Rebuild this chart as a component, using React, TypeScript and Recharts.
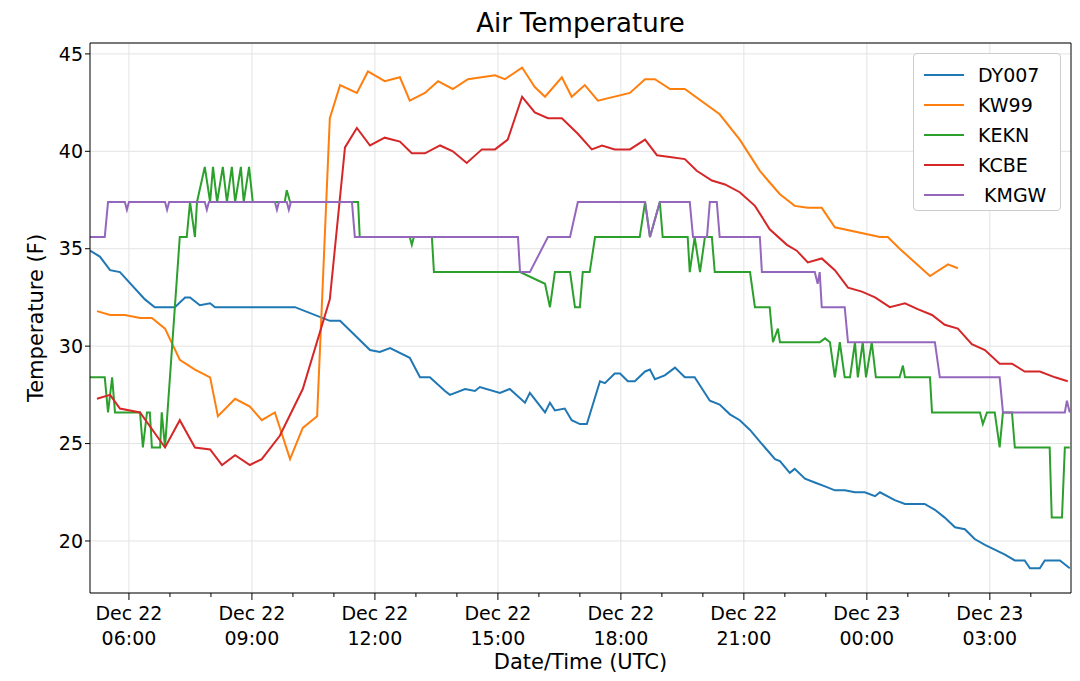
import React from "react";
import { LineChart, Line, XAxis, YAxis, CartesianGrid, ReferenceLine } from "recharts";

// time in hours since Dec 22 00:00 UTC
const dyTimes = [5.05, 5.29, 5.54, 5.78, 6.39, 6.63, 7.12, 7.37, 7.49, 7.73, 7.98, 8.1, 10.05, 10.9, 11.15, 11.88, 12.12, 12.37, 12.85, 13.1, 13.34, 13.71, 13.83, 14.2, 14.44, 14.56, 15.05, 15.29, 15.66, 15.78, 16.15, 16.27, 16.39, 16.63, 16.8, 17.0, 17.17, 17.49, 17.61, 17.85, 17.98, 18.17, 18.34, 18.59, 18.71, 18.83, 19.07, 19.32, 19.56, 19.8, 20.17, 20.41, 20.66, 20.9, 21.15, 21.39, 21.76, 21.88, 22.12, 22.24, 22.49, 22.73, 22.98, 23.22, 23.46, 23.71, 23.95, 24.2, 24.32, 24.68, 24.93, 25.41, 25.66, 25.9, 26.15, 26.39, 26.63, 26.88, 27.37, 27.61, 27.85, 27.98, 28.22, 28.34, 28.71, 28.95];
const dyValues = [34.9, 34.6, 33.9, 33.8, 32.4, 32.0, 32.0, 32.5, 32.5, 32.1, 32.2, 32.0, 32.0, 31.3, 31.3, 29.8, 29.7, 29.9, 29.4, 28.4, 28.4, 27.7, 27.5, 27.8, 27.7, 27.9, 27.6, 27.8, 27.1, 27.6, 26.6, 27.1, 26.7, 26.8, 26.2, 26.0, 26.0, 28.2, 28.1, 28.6, 28.6, 28.2, 28.2, 28.7, 28.8, 28.3, 28.5, 28.9, 28.4, 28.4, 27.2, 27.0, 26.5, 26.2, 25.7, 25.1, 24.2, 24.1, 23.5, 23.7, 23.2, 23.0, 22.8, 22.6, 22.6, 22.5, 22.5, 22.3, 22.5, 22.1, 21.9, 21.9, 21.6, 21.2, 20.7, 20.6, 20.1, 19.8, 19.3, 19.0, 19.0, 18.6, 18.6, 19.0, 19.0, 18.6];

const kw99Times = [5.22, 5.54, 5.9, 6.27, 6.56, 6.88, 7.24, 7.61, 7.98, 8.17, 8.59, 8.95, 9.24, 9.56, 9.93, 10.24, 10.59, 10.9, 11.15, 11.56, 11.83, 12.24, 12.61, 12.85, 13.22, 13.54, 13.9, 14.27, 14.93, 15.17, 15.59, 15.9, 16.15, 16.56, 16.8, 17.12, 17.44, 18.22, 18.59, 18.83, 19.2, 19.56, 20.41, 20.9, 21.39, 21.63, 21.88, 22.24, 22.56, 22.9, 23.22, 24.32, 24.51, 24.8, 25.54, 25.98, 26.22];
const kw99Values = [31.8, 31.6, 31.6, 31.45, 31.45, 30.9, 29.3, 28.8, 28.4, 26.4, 27.3, 26.9, 26.2, 26.6, 24.2, 25.8, 26.4, 41.7, 43.4, 43.0, 44.1, 43.6, 43.8, 42.6, 43.0, 43.6, 43.2, 43.7, 43.9, 43.7, 44.3, 43.3, 42.8, 43.8, 42.8, 43.4, 42.6, 43.0, 43.7, 43.7, 43.2, 43.2, 41.9, 40.6, 39.0, 38.4, 37.8, 37.2, 37.1, 37.1, 36.1, 35.6, 35.6, 35.0, 33.6, 34.2, 34.0];

const kekhTimes = [5.05, 5.41, 5.49, 5.59, 5.66, 6.27, 6.34, 6.44, 6.51, 6.56, 6.76, 6.8, 6.88, 7.24, 7.41, 7.49, 7.61, 7.66, 7.85, 7.98, 8.05, 8.15, 8.29, 8.39, 8.51, 8.59, 8.73, 8.8, 8.93, 9.02, 9.8, 9.85, 9.93, 11.59, 11.63, 12.85, 12.9, 12.95, 13.39, 13.44, 15.54, 16.15, 16.27, 16.39, 16.76, 16.88, 17.0, 17.07, 17.24, 17.37, 18.46, 18.59, 18.71, 18.95, 19.02, 19.63, 19.68, 19.8, 19.93, 20.05, 20.22, 20.29, 21.15, 21.27, 21.63, 21.71, 21.83, 21.88, 22.85, 22.98, 23.1, 23.22, 23.34, 23.46, 23.59, 23.71, 23.78, 23.9, 23.98, 24.12, 24.22, 24.8, 24.88, 24.93, 25.54, 25.59, 26.76, 26.83, 26.93, 27.12, 27.24, 27.32, 27.54, 27.61, 28.46, 28.51, 28.76, 28.83, 28.95];
const kekhValues = [28.4, 28.4, 26.6, 28.4, 26.6, 26.6, 24.8, 26.6, 26.6, 24.8, 24.8, 26.6, 24.8, 35.6, 35.6, 37.4, 35.6, 37.4, 39.2, 37.4, 39.2, 37.4, 39.2, 37.4, 39.2, 37.4, 39.2, 37.4, 39.2, 37.4, 37.4, 38.0, 37.4, 37.4, 35.6, 35.6, 35.2, 35.6, 35.6, 33.8, 33.8, 33.2, 32.0, 33.8, 33.8, 32.0, 32.0, 33.8, 33.8, 35.6, 35.6, 37.4, 35.6, 37.4, 35.6, 35.6, 33.8, 35.6, 33.8, 35.6, 35.6, 33.8, 33.8, 32.0, 32.0, 30.2, 30.9, 30.2, 30.2, 30.4, 30.2, 28.4, 30.2, 28.4, 28.4, 30.2, 28.4, 30.2, 28.4, 30.2, 28.4, 28.4, 29.0, 28.4, 28.4, 26.6, 26.6, 26.0, 26.6, 26.6, 24.8, 26.6, 26.6, 24.8, 24.8, 21.2, 21.2, 24.8, 24.8];

const kcbeTimes = [5.22, 5.54, 5.78, 6.27, 6.88, 7.24, 7.61, 7.98, 8.27, 8.59, 8.95, 9.24, 9.68, 10.24, 10.9, 11.27, 11.56, 11.88, 12.24, 12.61, 12.9, 13.22, 13.59, 13.9, 14.24, 14.61, 14.93, 15.24, 15.59, 15.9, 16.22, 16.56, 16.95, 17.29, 17.54, 17.85, 18.22, 18.59, 18.88, 19.24, 19.56, 19.85, 20.22, 20.54, 20.9, 21.27, 21.63, 22.05, 22.29, 22.56, 22.9, 23.22, 23.54, 23.88, 24.2, 24.56, 24.93, 25.24, 25.59, 25.9, 26.22, 26.56, 26.88, 27.24, 27.54, 27.85, 28.22, 28.59, 28.9];
const kcbeValues = [27.3, 27.5, 26.8, 26.6, 24.8, 26.2, 24.8, 24.7, 23.9, 24.4, 23.9, 24.2, 25.4, 27.8, 32.4, 40.2, 41.2, 40.3, 40.7, 40.5, 39.9, 39.9, 40.3, 40.0, 39.4, 40.1, 40.1, 40.6, 42.8, 42.0, 41.7, 41.7, 40.9, 40.1, 40.3, 40.1, 40.1, 40.6, 39.8, 39.7, 39.6, 39.0, 38.5, 38.3, 37.9, 37.2, 36.0, 35.2, 34.9, 34.3, 34.5, 33.9, 33.0, 32.8, 32.5, 32.0, 32.2, 31.9, 31.6, 31.1, 30.9, 30.1, 29.8, 29.1, 29.1, 28.7, 28.7, 28.4, 28.2];

const kmgwTimes = [5.05, 5.41, 5.49, 5.9, 5.95, 6.0, 6.88, 6.93, 6.98, 7.85, 7.9, 7.95, 9.56, 9.61, 9.66, 9.85, 9.9, 9.95, 11.44, 11.51, 15.49, 15.54, 15.78, 16.22, 16.76, 16.95, 18.59, 18.71, 18.95, 19.68, 19.76, 20.1, 20.17, 20.34, 20.41, 21.39, 21.44, 22.73, 22.8, 22.85, 22.9, 23.46, 23.54, 25.66, 25.78, 27.24, 27.32, 28.83, 28.88, 28.95];
const kmgwValues = [35.6, 35.6, 37.4, 37.4, 37.0, 37.4, 37.4, 37.0, 37.4, 37.4, 37.0, 37.4, 37.4, 37.0, 37.4, 37.4, 37.0, 37.4, 37.4, 35.6, 35.6, 33.8, 33.8, 35.6, 35.6, 37.4, 37.4, 35.6, 37.4, 37.4, 35.6, 35.6, 37.4, 37.4, 35.6, 35.6, 33.8, 33.8, 33.2, 33.8, 32.0, 32.0, 30.2, 30.2, 28.4, 28.4, 26.6, 26.6, 27.2, 26.6];

const hourTicks = [6, 7, 8, 9, 10, 11, 12, 13, 14, 15, 16, 17, 18, 19, 20, 21, 22, 23, 24, 25, 26, 27, 28];
const majorTicks = [6, 9, 12, 15, 18, 21, 24, 27];
const majorLabels: Record<number, [string, string]> = {
  6: ["Dec 22", "06:00"], 9: ["Dec 22", "09:00"], 12: ["Dec 22", "12:00"], 15: ["Dec 22", "15:00"],
  18: ["Dec 22", "18:00"], 21: ["Dec 22", "21:00"], 24: ["Dec 23", "00:00"], 27: ["Dec 23", "03:00"],
};
const yTicks = [20, 25, 30, 35, 40, 45];

const zip = (ts: number[], vs: number[]) => ts.map((t, i) => ({ t, v: vs[i] }));

const series = [
  { name: "DY007", color: "#1f77b4", data: zip(dyTimes, dyValues) },
  { name: "KW99", color: "#ff7f0e", data: zip(kw99Times, kw99Values) },
  { name: "KEKN", color: "#2ca02c", data: zip(kekhTimes, kekhValues) },
  { name: "KCBE", color: "#d62728", data: zip(kcbeTimes, kcbeValues) },
  { name: " KMGW", color: "#9467bd", data: zip(kmgwTimes, kmgwValues) },
];

const font = "'DejaVu Sans', sans-serif";

const XTick = ({ x, y, payload }: any) => {
  const lab = majorLabels[payload.value];
  return (
    <g>
      <line x1={x} x2={x} y1={y - 8} y2={y + (lab ? -1 : -4)} stroke="#000" strokeWidth={1} />
      {lab && (
        <text x={x} y={y + 19} textAnchor="middle" fontSize={19} fill="#000" fontFamily={font}>
          <tspan x={x}>{lab[0]}</tspan>
          <tspan x={x} dy={25}>{lab[1]}</tspan>
        </text>
      )}
    </g>
  );
};

export default function App() {
  return (
    <div style={{ position: "relative", width: 1080, height: 681, margin: -8, background: "#fff", fontFamily: font }}>
      <div style={{ position: "absolute", top: 8, left: 90, width: 981, textAlign: "center", fontSize: 26 }}>Air Temperature</div>
      <LineChart width={1080} height={681} margin={{ top: 43, right: 9, bottom: 0, left: 0 }}>
        <CartesianGrid vertical={false} stroke="#e3e3e3" />
        {majorTicks.map((t) => (
          <ReferenceLine key={t} x={t} stroke="#e3e3e3" />
        ))}
        <XAxis
          dataKey="t"
          type="number"
          domain={[5.05, 28.98]}
          ticks={hourTicks}
          allowDataOverflow
          tick={<XTick />}
          tickLine={false}
          axisLine={{ stroke: "#000" }}
          height={88}
        />
        <YAxis
          type="number"
          domain={[17.33, 45.56]}
          ticks={yTicks}
          allowDataOverflow
          width={90}
          tick={{ fontSize: 19, fill: "#000", fontFamily: font }}
          tickLine={{ stroke: "#000" }}
          tickSize={5}
          axisLine={{ stroke: "#000" }}
        />
        <ReferenceLine y={45.56} stroke="#000" />
        <ReferenceLine x={28.98} stroke="#000" />
        {series.map((s) => (
          <Line
            key={s.name}
            data={s.data}
            dataKey="v"
            stroke={s.color}
            strokeWidth={2}
            dot={false}
            isAnimationActive={false}
            type="linear"
          />
        ))}
      </LineChart>
      <div style={{ position: "absolute", left: 90, width: 981, top: 650, textAlign: "center", fontSize: 21 }}>Date/Time (UTC)</div>
      <div style={{ position: "absolute", left: 36, top: 318, transform: "translate(-50%,-50%) rotate(-90deg)", fontSize: 21, whiteSpace: "nowrap" }}>
        Temperature (F)
      </div>
      <div style={{ position: "absolute", left: 913, top: 53, width: 148, height: 158, border: "1px solid #ccc", borderRadius: 4, background: "#fff", boxSizing: "border-box", padding: "6px 0 0 10px" }}>
        {series.map((s) => (
          <div key={s.name} style={{ display: "flex", alignItems: "center", height: 30, fontSize: 19 }}>
            <span style={{ width: 40, height: 2, background: s.color, marginRight: 14 }} />
            <span style={{ whiteSpace: "pre" }}>{s.name}</span>
          </div>
        ))}
      </div>
    </div>
  );
}
